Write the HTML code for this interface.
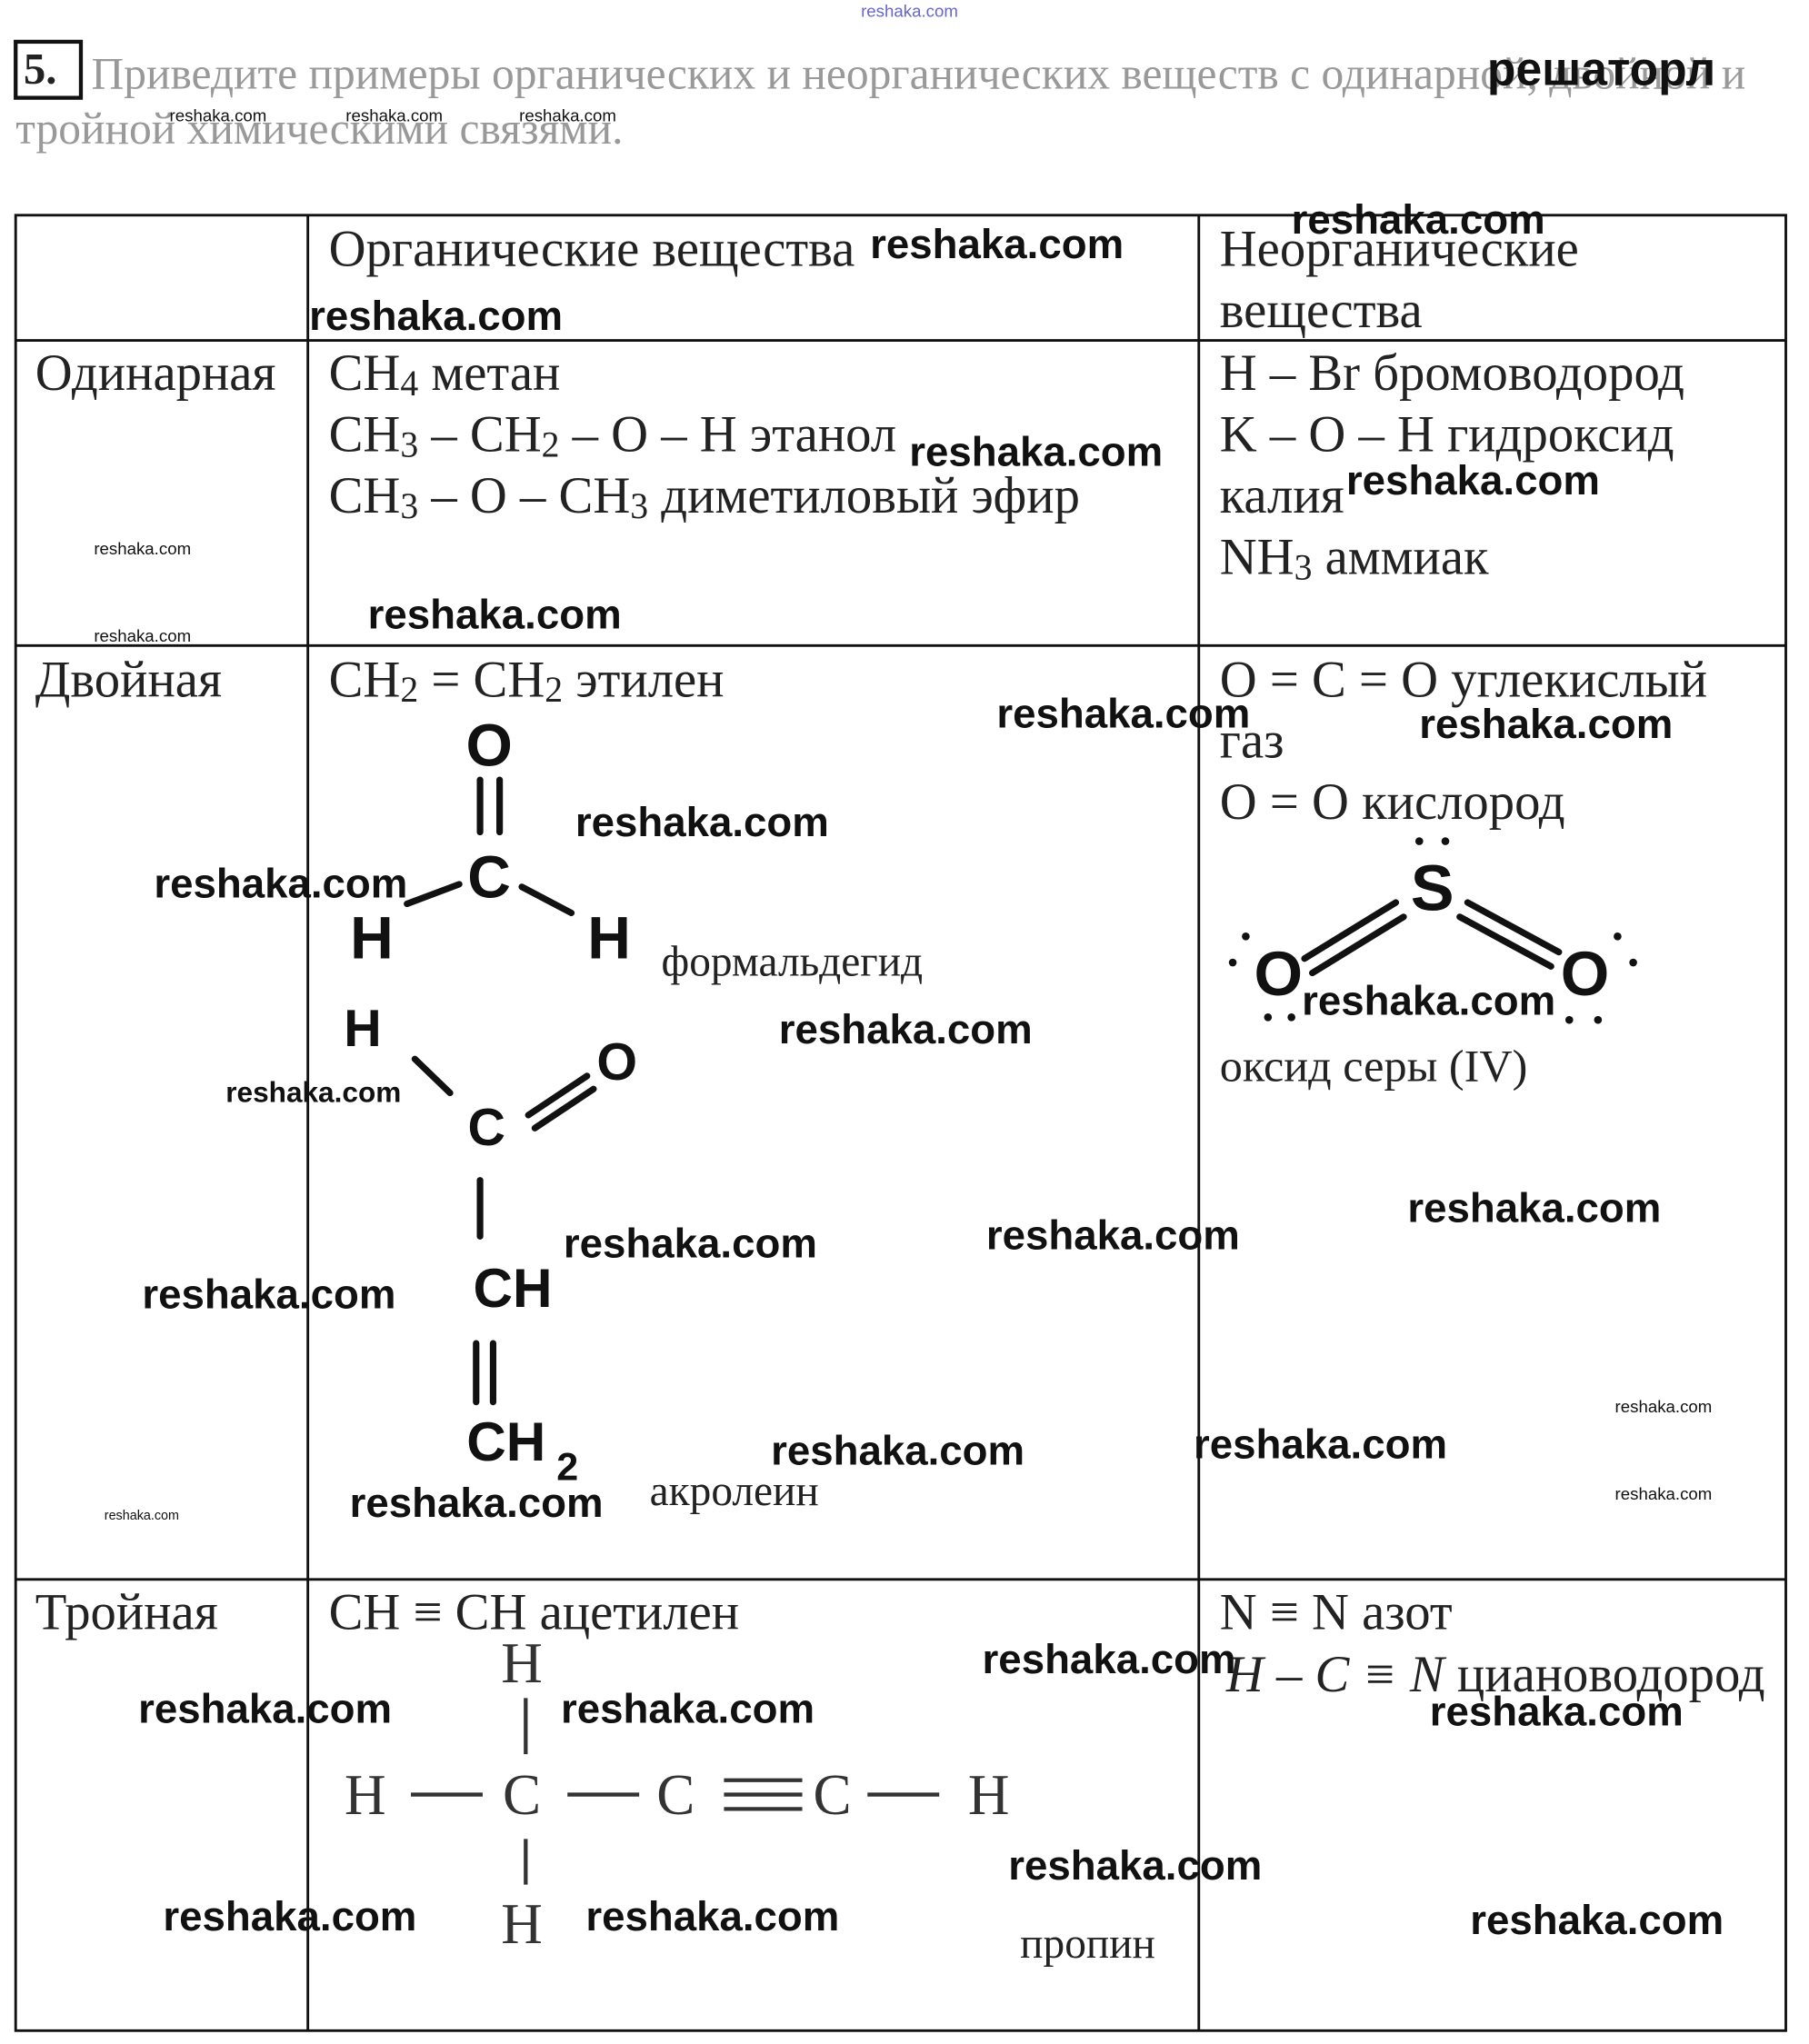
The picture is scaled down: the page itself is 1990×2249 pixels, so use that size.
<!DOCTYPE html>
<html><head><meta charset="utf-8">
<style>
html,body{margin:0;padding:0;background:#fff;}
#wrap{width:1990px;height:2249px;overflow:hidden;position:relative;}
#s{position:absolute;left:0;top:0;width:1390px;height:1570px;transform:scale(1.435);transform-origin:0 0;}
.t{position:absolute;font-family:"Liberation Serif",serif;font-size:39.5px;color:#222;white-space:nowrap;line-height:1;}
.w{position:absolute;font-family:"Liberation Sans",sans-serif;font-weight:bold;font-size:31.8px;color:#111;white-space:nowrap;line-height:1;}
.ws{position:absolute;font-family:"Liberation Sans",sans-serif;font-size:13px;color:#111;white-space:nowrap;line-height:1;}
.g{position:absolute;font-family:"Liberation Serif",serif;font-size:34.5px;color:#999;white-space:nowrap;line-height:1;}
sub{font-size:0.7em;vertical-align:-0.15em;}
</style></head><body><div id="wrap"><div id="s">
<svg width="1390" height="1570" style="position:absolute;left:0;top:0">
<g stroke="#111" stroke-width="2" fill="none">
<rect x="12" y="165" width="1357" height="1392"/>
<line x1="236" y1="165" x2="236" y2="1557"/>
<line x1="919" y1="165" x2="919" y2="1557"/>
<line x1="12" y1="261" x2="1369" y2="261"/>
<line x1="12" y1="495" x2="1369" y2="495"/>
<line x1="12" y1="1211" x2="1369" y2="1211"/>
<rect x="12" y="32" width="50" height="43" stroke-width="3"/>
</g>
<g stroke="#111" stroke-width="5" fill="none" stroke-linecap="round">
<line x1="368" y1="598" x2="368" y2="638"/><line x1="383" y1="598" x2="383" y2="638"/>
<line x1="312" y1="693" x2="352" y2="678"/><line x1="400" y1="680" x2="438" y2="700"/>
<line x1="318" y1="812" x2="345" y2="838"/>
<line x1="405" y1="855" x2="450" y2="825"/><line x1="410" y1="865" x2="455" y2="835"/>
<line x1="368" y1="905" x2="368" y2="948"/>
<line x1="365" y1="1030" x2="365" y2="1075"/><line x1="378" y1="1030" x2="378" y2="1075"/>
<line x1="1000" y1="735" x2="1070" y2="692"/><line x1="1006" y1="746" x2="1076" y2="703"/>
<line x1="1125" y1="692" x2="1195" y2="730"/><line x1="1119" y1="703" x2="1189" y2="741"/>
</g>
<g fill="#111">
<circle cx="1088" cy="645" r="3"/><circle cx="1108" cy="645" r="3"/>
<circle cx="955" cy="718" r="3"/><circle cx="945" cy="738" r="3"/><circle cx="972" cy="780" r="3"/><circle cx="990" cy="780" r="3"/>
<circle cx="1240" cy="718" r="3"/><circle cx="1252" cy="738" r="3"/><circle cx="1203" cy="782" r="3"/><circle cx="1225" cy="782" r="3"/>
</g>
<g stroke="#333" stroke-width="3" fill="none">
<line x1="403" y1="1302" x2="403" y2="1345"/><line x1="403" y1="1410" x2="403" y2="1445"/>
<line x1="315" y1="1376" x2="370" y2="1376"/><line x1="435" y1="1376" x2="490" y2="1376"/>
<line x1="555" y1="1365" x2="615" y2="1365"/><line x1="555" y1="1376" x2="615" y2="1376"/><line x1="555" y1="1387" x2="615" y2="1387"/>
<line x1="665" y1="1376" x2="720" y2="1376"/>
</g>
<g font-family="Liberation Sans,sans-serif" font-weight="bold" fill="#111" font-size="46">
<text x="375" y="587" text-anchor="middle">O</text>
<text x="375" y="688" text-anchor="middle">C</text>
<text x="285" y="735" text-anchor="middle">H</text>
<text x="467" y="735" text-anchor="middle">H</text>
<text font-size="40" x="278" y="802" text-anchor="middle">H</text>
<text font-size="40" x="473" y="828" text-anchor="middle">O</text>
<text font-size="40" x="373" y="878" text-anchor="middle">C</text>
<text font-size="42" x="393" y="1002" text-anchor="middle">CH</text>
<text font-size="42" x="388" y="1120" text-anchor="middle">CH</text>
<text font-size="30" x="435" y="1135" text-anchor="middle">2</text>
<text font-size="50" x="1098" y="698" text-anchor="middle">S</text>
<text font-size="48" x="980" y="763" text-anchor="middle">O</text>
<text font-size="48" x="1215" y="763" text-anchor="middle">O</text>
</g>
<g font-family="Liberation Serif,serif" fill="#333" font-size="44">
<text x="400" y="1290" text-anchor="middle">H</text>
<text x="280" y="1391" text-anchor="middle">H</text>
<text x="400" y="1391" text-anchor="middle">C</text>
<text x="518" y="1391" text-anchor="middle">C</text>
<text x="638" y="1391" text-anchor="middle">C</text>
<text x="758" y="1391" text-anchor="middle">H</text>
<text x="400" y="1490" text-anchor="middle">H</text>
</g>
</svg>
<div class="t" style="left:18px;top:37px;font-size:34px;font-weight:bold">5.</div>
<div class="g" style="left:70px;top:40px">Приведите примеры органических и неорганических веществ с одинарной, двойной и</div>
<div class="g" style="left:12px;top:82px">тройной химическими связями.</div>
<div class="w" style="left:1140px;top:35px;font-size:36px">решаторл</div>
<div class="ws" style="left:660px;top:2px;color:#66c">reshaka.com</div>
<div class="ws" style="left:130px;top:82px">reshaka.com</div>
<div class="ws" style="left:265px;top:82px">reshaka.com</div>
<div class="ws" style="left:398px;top:82px">reshaka.com</div>

<div class="t" style="left:252px;top:172px">Органические вещества</div>
<div class="t" style="left:935px;top:172px">Неорганические</div>
<div class="t" style="left:935px;top:219px">вещества</div>
<div class="t" style="left:27px;top:267px">Одинарная</div>
<div class="t" style="left:252px;top:267px">CH<sub>4</sub> метан</div>
<div class="t" style="left:252px;top:314px">CH<sub>3</sub> – CH<sub>2</sub> – O – H этанол</div>
<div class="t" style="left:252px;top:361px">CH<sub>3</sub> – O – CH<sub>3</sub> диметиловый эфир</div>
<div class="t" style="left:935px;top:267px">H – Br бромоводород</div>
<div class="t" style="left:935px;top:314px">K – O – H гидроксид</div>
<div class="t" style="left:935px;top:361px">калия</div>
<div class="t" style="left:935px;top:408px">NH<sub>3</sub> аммиак</div>
<div class="t" style="left:27px;top:502px">Двойная</div>
<div class="t" style="left:252px;top:502px">CH<sub>2</sub> = CH<sub>2</sub> этилен</div>
<div class="t" style="left:935px;top:502px">O = C = O углекислый</div>
<div class="t" style="left:935px;top:549px">газ</div>
<div class="t" style="left:935px;top:596px">O = O кислород</div>
<div class="t" style="left:507px;top:722px;font-size:33px">формальдегид</div>
<div class="t" style="left:935px;top:800px;font-size:35px">оксид серы (IV)</div>
<div class="t" style="left:498px;top:1128px;font-size:33px">акролеин</div>
<div class="t" style="left:27px;top:1217px">Тройная</div>
<div class="t" style="left:252px;top:1217px">CH ≡ CH ацетилен</div>
<div class="t" style="left:935px;top:1217px">N ≡ N азот</div>
<div class="t" style="left:940px;top:1265px"><i>H – C ≡ N</i> циановодород</div>
<div class="t" style="left:782px;top:1475px;font-size:33px">пропин</div>

<div class="w" style="left:667px;top:172px">reshaka.com</div>
<div class="w" style="left:237px;top:227px">reshaka.com</div>
<div class="w" style="left:990px;top:153px">reshaka.com</div>
<div class="w" style="left:697px;top:331px">reshaka.com</div>
<div class="w" style="left:1032px;top:353px">reshaka.com</div>
<div class="w" style="left:282px;top:456px">reshaka.com</div>
<div class="ws" style="left:72px;top:414px">reshaka.com</div>
<div class="ws" style="left:72px;top:481px">reshaka.com</div>
<div class="w" style="left:764px;top:532px">reshaka.com</div>
<div class="w" style="left:1088px;top:540px">reshaka.com</div>
<div class="w" style="left:441px;top:615px">reshaka.com</div>
<div class="w" style="left:118px;top:662px">reshaka.com</div>
<div class="w" style="left:998px;top:752px">reshaka.com</div>
<div class="w" style="left:597px;top:774px">reshaka.com</div>
<div class="w" style="left:173px;top:827px;font-size:22px">reshaka.com</div>
<div class="w" style="left:1079px;top:911px">reshaka.com</div>
<div class="w" style="left:756px;top:932px">reshaka.com</div>
<div class="w" style="left:432px;top:938px">reshaka.com</div>
<div class="w" style="left:109px;top:977px">reshaka.com</div>
<div class="ws" style="left:1238px;top:1072px">reshaka.com</div>
<div class="ws" style="left:1238px;top:1139px">reshaka.com</div>
<div class="ws" style="left:80px;top:1158px;font-size:10px">reshaka.com</div>
<div class="w" style="left:915px;top:1092px">reshaka.com</div>
<div class="w" style="left:591px;top:1097px">reshaka.com</div>
<div class="w" style="left:268px;top:1137px">reshaka.com</div>
<div class="w" style="left:753px;top:1257px">reshaka.com</div>
<div class="w" style="left:1096px;top:1297px">reshaka.com</div>
<div class="w" style="left:106px;top:1295px">reshaka.com</div>
<div class="w" style="left:430px;top:1295px">reshaka.com</div>
<div class="w" style="left:773px;top:1415px">reshaka.com</div>
<div class="w" style="left:125px;top:1454px">reshaka.com</div>
<div class="w" style="left:449px;top:1454px">reshaka.com</div>
<div class="w" style="left:1127px;top:1457px">reshaka.com</div>
</div></div></body></html>
